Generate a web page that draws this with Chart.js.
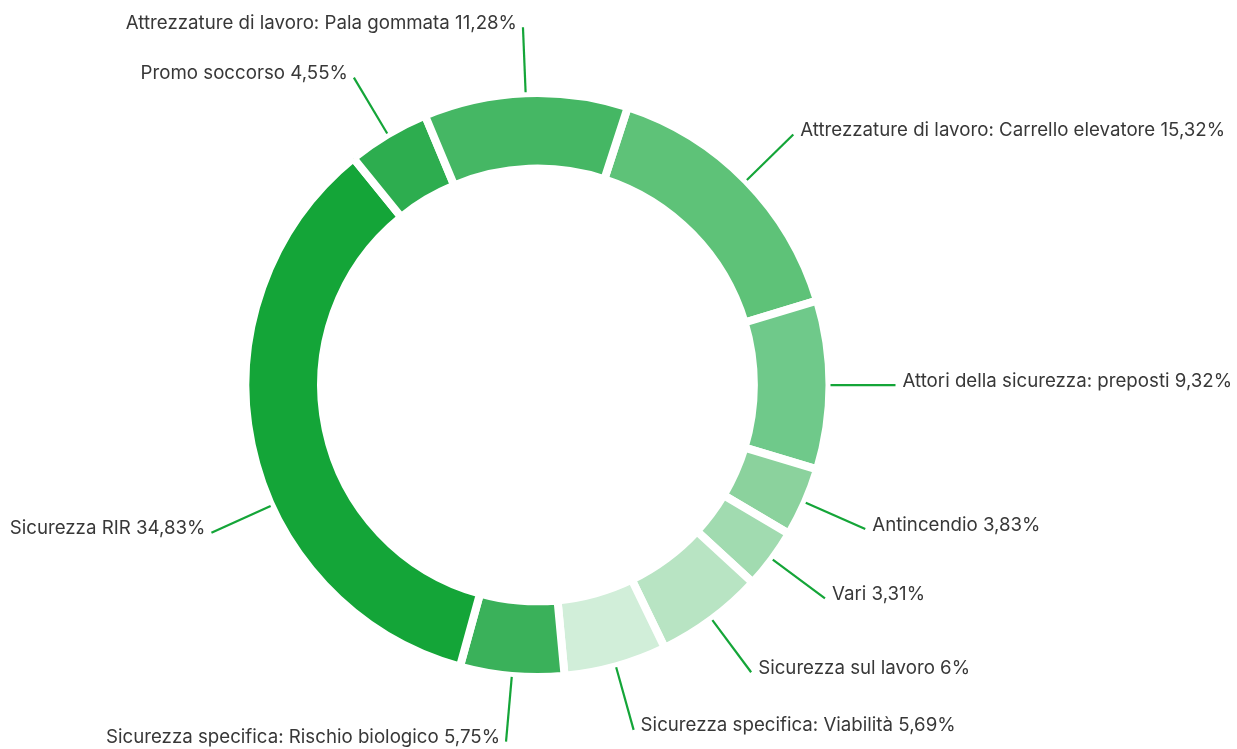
<!DOCTYPE html>
<html lang="it">
<head>
<meta charset="utf-8">
<title>Formazione sicurezza per argomento</title>
<script src="https://cdn.jsdelivr.net/npm/chart.js@4.4.1/dist/chart.umd.min.js"></script>
<style>
    html, body { margin: 0; padding: 0; background: #fff; }
    .chart-wrap { position: relative; width: 1237px; height: 749px; }
</style>
</head>
<body>
<div class="chart-wrap"><canvas id="topicsChart"></canvas></div>
<script>
// Argomenti e quote (%), in senso orario a partire dall'alto
const topics = [
    'Attrezzature di lavoro: Carrello elevatore',
    'Attori della sicurezza: preposti',
    'Antincendio',
    'Vari',
    'Sicurezza sul lavoro',
    'Sicurezza specifica: Viabilità',
    'Sicurezza specifica: Rischio biologico',
    'Sicurezza RIR',
    'Promo soccorso',
    'Attrezzature di lavoro: Pala gommata'
];
const shares = [15.32, 9.32, 3.83, 3.31, 6, 5.69, 5.75, 34.83, 4.55, 11.28];

const sliceColors = [
    '#5ec278', '#6fc98a', '#8bd29d', '#a1dbb0', '#b8e4c3',
    '#d1eed9', '#3ab15a', '#14a538', '#2dad4f', '#45b764'
];

// punto di aggancio della linea lungo l'arco (0.5 = metà), per evitare sovrapposizioni
const labelAnchor = { 'Sicurezza RIR': 0.4 };

const fmtPct = v => String(v).replace('.', ',') + '%';

// Linee guida radiali + etichette fuori dall'anello
const leaderLines = {
    id: 'leaderLines',
    afterDatasetsDraw(chart) {
        const ctx = chart.ctx;
        const meta = chart.getDatasetMeta(0);
        ctx.save();
        ctx.font = '18.7px Inter, "Noto Sans", sans-serif';
        ctx.textBaseline = 'middle';
        meta.data.forEach((arc, i) => {
            const { x, y, startAngle, endAngle, outerRadius } = arc.getProps(['x', 'y', 'startAngle', 'endAngle', 'outerRadius'], true);
            const f = labelAnchor[topics[i]] ?? 0.5;
            const mid = startAngle + (endAngle - startAngle) * f;
            const cos = Math.cos(mid), sin = Math.sin(mid);
            const r0 = outerRadius + 1, r1 = outerRadius + 66;
            const ex = x + cos * r1, ey = y + sin * r1;

            ctx.strokeStyle = '#14a538';
            ctx.lineWidth = 2.2;
            ctx.beginPath();
            ctx.moveTo(x + cos * r0, y + sin * r0);
            ctx.lineTo(ex, ey);
            ctx.stroke();

            const right = cos >= 0;
            ctx.fillStyle = '#383838';
            ctx.textAlign = right ? 'left' : 'right';
            ctx.fillText(topics[i] + ' ' + fmtPct(shares[i]), ex + (right ? 7 : -6), ey - 4);
        });
        ctx.restore();
    }
};

new Chart(document.getElementById('topicsChart'), {
    type: 'doughnut',
    data: {
        labels: topics,
        datasets: [{
            data: shares,
            backgroundColor: sliceColors,
            borderColor: '#ffffff',
            borderWidth: 8,
            borderAlign: 'center',
            hoverOffset: 0
        }]
    },
    options: {
        responsive: true,
        maintainAspectRatio: false,
        animation: false,
        events: [],
        rotation: 18,
        radius: 292,
        cutout: '74.1%',
        layout: { padding: { top: 21, bottom: 0, left: 0, right: 162 } },
        plugins: {
            legend: { display: false },
            tooltip: { enabled: false }
        }
    },
    plugins: [leaderLines]
});
</script>
</body>
</html>
